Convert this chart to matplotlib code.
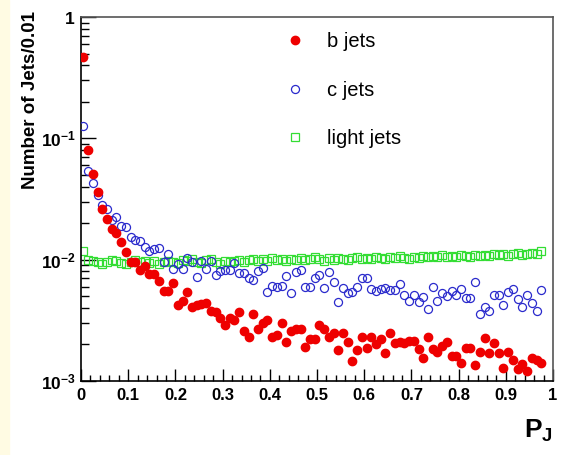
import numpy as np
import matplotlib
matplotlib.use("Agg")
import matplotlib.pyplot as plt
from matplotlib.ticker import MultipleLocator, FixedLocator, LogLocator, NullFormatter

# bin centres of P_J (width 0.01)
bin_width = 0.01
n_bins = 98
pj = (np.arange(n_bins) + 0.5) * bin_width

b_jets = [0.47, 0.080, 0.051, 0.036, 0.0262, 0.0217, 0.018, 0.0166, 0.014, 0.0116,
          0.0095, 0.0095, 0.0083, 0.0088, 0.0076, 0.0076, 0.0067, 0.0055, 0.0055, 0.0064,
          0.0042, 0.0046, 0.0054, 0.0041, 0.0042, 0.0043, 0.0044, 0.0038, 0.0037, 0.0033,
          0.0029, 0.0033, 0.0032, 0.0037, 0.0026, 0.0023, 0.0036, 0.0027, 0.0030, 0.0032,
          0.0023, 0.0024, 0.0030, 0.0021, 0.0026, 0.0027, 0.0027, 0.0019, 0.0022, 0.0022,
          0.0029, 0.0027, 0.0023, 0.0025, 0.0018, 0.0025, 0.0021, 0.00145, 0.0018, 0.0023,
          0.00186, 0.0023, 0.0020, 0.0022, 0.0017, 0.0025, 0.00205, 0.0021, 0.00205, 0.00215,
          0.00215, 0.00185, 0.00154, 0.0023, 0.00183, 0.00173, 0.00193, 0.0021, 0.0016, 0.0016,
          0.0014, 0.00186, 0.00186, 0.00136, 0.00175, 0.00225, 0.0017, 0.00205, 0.0017, 0.00127,
          0.00173, 0.00148, 0.00126, 0.00138, 0.00121, 0.00154, 0.0015, 0.0014]

c_jets = [0.126, 0.054, 0.043, 0.034, 0.028, 0.026, 0.0213, 0.0224, 0.0189, 0.0185,
          0.0153, 0.0146, 0.0142, 0.0127, 0.0118, 0.0122, 0.0125, 0.0095, 0.0112, 0.0084,
          0.0093, 0.0084, 0.0104, 0.0096, 0.0072, 0.0097, 0.0084, 0.0097, 0.0075, 0.0081,
          0.0082, 0.0083, 0.0094, 0.0078, 0.0078, 0.0070, 0.0068, 0.0081, 0.0086, 0.0054,
          0.0061, 0.0060, 0.0061, 0.0073, 0.0053, 0.0079, 0.0083, 0.0060, 0.0060, 0.0070,
          0.0075, 0.0058, 0.0079, 0.0066, 0.0045, 0.0058, 0.0053, 0.0054, 0.0060, 0.0070,
          0.0070, 0.0057, 0.0055, 0.0057, 0.0058, 0.0056, 0.0056, 0.0063, 0.0051, 0.0046,
          0.0051, 0.0045, 0.0049, 0.0039, 0.0060, 0.0046, 0.0053, 0.0050, 0.0055, 0.0051,
          0.0057, 0.0048, 0.0048, 0.0066, 0.0036, 0.0041, 0.0038, 0.0051, 0.0051, 0.0042,
          0.0054, 0.0057, 0.0047, 0.0041, 0.0051, 0.0044, 0.0038, 0.0056]

light_jets = [0.0118, 0.0100, 0.0098, 0.0095, 0.0093, 0.0096, 0.0099, 0.0097, 0.0094, 0.0093,
              0.0096, 0.0100, 0.0095, 0.0097, 0.0094, 0.0097, 0.0092, 0.0095, 0.0098, 0.0096,
              0.0094, 0.0099, 0.0097, 0.0101, 0.0096, 0.0094, 0.0099, 0.0102, 0.0096, 0.0093,
              0.0097, 0.0095, 0.0098, 0.0100, 0.0096, 0.0099, 0.0102, 0.0097, 0.0101, 0.0098,
              0.0103, 0.0099, 0.0101, 0.0097, 0.0102, 0.0100, 0.0104, 0.0099, 0.0102, 0.0106,
              0.0101, 0.0098, 0.0103, 0.0100, 0.0104, 0.0102, 0.0099, 0.0103, 0.0105, 0.0101,
              0.0104, 0.0102, 0.0106, 0.0103, 0.0101, 0.0105, 0.0103, 0.0107, 0.0104, 0.0102,
              0.0106, 0.0104, 0.0107, 0.0105, 0.0108, 0.0106, 0.0109, 0.0105, 0.0108, 0.0106,
              0.0110, 0.0107, 0.0105, 0.0109, 0.0107, 0.0110, 0.0108, 0.0111, 0.0109, 0.0112,
              0.0108, 0.0111, 0.0113, 0.0110, 0.0112, 0.0114, 0.0111, 0.0118]

y_ticks = [1e-3, 1e-2, 1e-1, 1]
y_ticklabels = [r"$\mathbf{10^{-3}}$", r"$\mathbf{10^{-2}}$", r"$\mathbf{10^{-1}}$", r"$\mathbf{1}$"]

plt.rcParams["font.family"] = ["Liberation Sans", "DejaVu Sans"]
plt.rcParams["mathtext.fontset"] = "custom"
plt.rcParams["mathtext.rm"] = "Liberation Sans"
plt.rcParams["mathtext.bf"] = "Liberation Sans:bold"

fig = plt.figure(figsize=(5.67, 4.55), dpi=100)
# pale strip on the left edge
fig.patches.append(plt.Rectangle((0, 0), 0.016, 1, transform=fig.transFigure,
                                 color="#fffbe3", zorder=0))
ax = fig.add_axes([0.1429, 0.1626, 0.8325, 0.80])

ax.plot(pj, light_jets, linestyle="none", marker="s", markersize=5.2,
        markerfacecolor="none", markeredgecolor="#33dd33", markeredgewidth=0.9,
        label="light jets", zorder=2)
ax.plot(pj, c_jets, linestyle="none", marker="o", markersize=5.8,
        markerfacecolor="none", markeredgecolor="#2a2acc", markeredgewidth=0.9,
        label="c jets", zorder=3)
ax.plot(pj, b_jets, linestyle="none", marker="o", markersize=6.0,
        markerfacecolor="#ee0000", markeredgecolor="#ee0000",
        label="b jets", zorder=4)

ax.set_yscale("log")
ax.set_xlim(0, 1)
ax.set_ylim(1e-3, 1)

ax.xaxis.set_major_locator(MultipleLocator(0.1))
ax.xaxis.set_minor_locator(MultipleLocator(0.02))
ax.set_xticks(np.arange(0, 1.01, 0.1))
ax.set_xticklabels(["0", "0.1", "0.2", "0.3", "0.4", "0.5", "0.6", "0.7", "0.8", "0.9", "1"],
                   fontweight="bold", fontsize=12)
ax.yaxis.set_major_locator(FixedLocator(y_ticks))
ax.set_yticklabels(y_ticklabels, fontsize=12.5)
ax.yaxis.set_minor_locator(LogLocator(base=10, subs=np.arange(2, 10)))
ax.yaxis.set_minor_formatter(NullFormatter())

ax.tick_params(axis="both", which="both", direction="in", top=False, right=False)
ax.tick_params(axis="y", which="major", length=11, width=1.0, pad=4)
ax.tick_params(axis="y", which="minor", length=6, width=1.0)
ax.tick_params(axis="x", which="major", length=8.5, width=1.0, pad=5)
ax.tick_params(axis="x", which="minor", length=4.3, width=1.0)
for s in ax.spines.values():
    s.set_linewidth(1.2)
ax.spines["right"].set_color("#555555")
ax.spines["top"].set_color("#555555")

fig.text(0.053, 0.975, "Number of Jets/0.01", rotation=90, ha="center", va="top",
         fontsize=13.5, fontweight="bold")
fig.text(0.975, 0.025, r"$\mathbf{P_J}$", ha="right", va="bottom", fontsize=19)

handles, labels = ax.get_legend_handles_labels()
order = [2, 1, 0]
ax.legend([handles[i] for i in order], [labels[i] for i in order],
          loc="upper left", bbox_to_anchor=(0.394, 1.008), frameon=False,
          fontsize=14.5, handlelength=1.0, handletextpad=1.1, labelspacing=1.47,
          numpoints=1)

fig.savefig("out.png", dpi=100)
